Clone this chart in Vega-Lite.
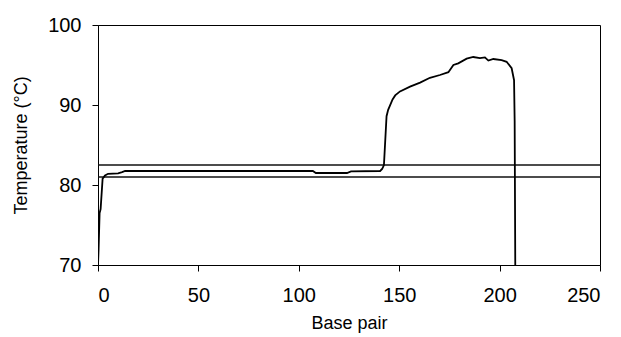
{
  "$schema": "https://vega.github.io/schema/vega-lite/v6.json",
  "autosize": "none",
  "width": 502,
  "height": 240,
  "padding": {"left": 98, "top": 25, "right": 21, "bottom": 72},
  "background": "white",
  "config": {
    "view": {"stroke": "black", "strokeWidth": 1},
    "font": "Liberation Sans",
    "axis": {
      "grid": false,
      "domainColor": "black",
      "tickColor": "black",
      "tickSize": 6,
      "labelFont": "Liberation Sans",
      "titleFont": "Liberation Sans",
      "labelFontSize": 20,
      "titleFontSize": 18,
      "labelColor": "black",
      "titleColor": "black",
      "titleFontWeight": "normal"
    }
  },
  "datasets": {
    "curve": [
      {"bp": 0, "t": 70},
      {"bp": 0.3, "t": 72},
      {"bp": 0.8, "t": 76.5},
      {"bp": 1.3, "t": 77},
      {"bp": 2.3, "t": 80.8},
      {"bp": 3.5, "t": 81.2},
      {"bp": 5, "t": 81.4},
      {"bp": 10, "t": 81.45},
      {"bp": 12, "t": 81.6},
      {"bp": 13.5, "t": 81.75},
      {"bp": 60, "t": 81.75},
      {"bp": 107, "t": 81.75},
      {"bp": 108.5, "t": 81.5},
      {"bp": 124, "t": 81.5},
      {"bp": 126, "t": 81.7},
      {"bp": 140.5, "t": 81.75},
      {"bp": 141.5, "t": 82.0},
      {"bp": 142.4, "t": 82.5},
      {"bp": 143.7, "t": 88.6},
      {"bp": 144.5, "t": 89.4},
      {"bp": 146.7, "t": 90.7},
      {"bp": 148, "t": 91.2},
      {"bp": 150.4, "t": 91.7},
      {"bp": 155.4, "t": 92.3},
      {"bp": 160.4, "t": 92.8},
      {"bp": 165.3, "t": 93.4},
      {"bp": 170.3, "t": 93.75},
      {"bp": 174.5, "t": 94.1},
      {"bp": 177, "t": 95.0},
      {"bp": 179.4, "t": 95.2},
      {"bp": 183.6, "t": 95.8},
      {"bp": 186.9, "t": 96.0},
      {"bp": 190.2, "t": 95.85},
      {"bp": 192.7, "t": 95.95},
      {"bp": 194.4, "t": 95.55},
      {"bp": 196.9, "t": 95.75},
      {"bp": 201, "t": 95.6},
      {"bp": 203.5, "t": 95.4},
      {"bp": 206, "t": 94.6},
      {"bp": 207.2, "t": 93.1},
      {"bp": 207.5, "t": 88},
      {"bp": 207.8, "t": 70}
    ],
    "refs": [
      {"t": 82.5},
      {"t": 81.0}
    ]
  },
  "layer": [
    {
      "data": {"name": "refs"},
      "mark": {"type": "rule", "color": "#111111", "strokeWidth": 1.3},
      "encoding": {
        "y": {"field": "t", "type": "quantitative", "scale": {"domain": [70, 100]}}
      }
    },
    {
      "data": {"name": "curve"},
      "mark": {"type": "line", "color": "black", "strokeWidth": 1.8, "clip": true},
      "encoding": {
        "x": {
          "field": "bp", "type": "quantitative", "title": "Base pair",
          "scale": {"domain": [0, 250], "nice": false},
          "axis": {"values": [0, 50, 100, 150, 200, 250], "labelPadding": 14, "titlePadding": 9}
        },
        "y": {
          "field": "t", "type": "quantitative", "title": "Temperature (°C)",
          "scale": {"domain": [70, 100], "nice": false},
          "axis": {"values": [70, 80, 90, 100], "labelPadding": 11, "titlePadding": 17}
        }
      }
    }
  ]
}
